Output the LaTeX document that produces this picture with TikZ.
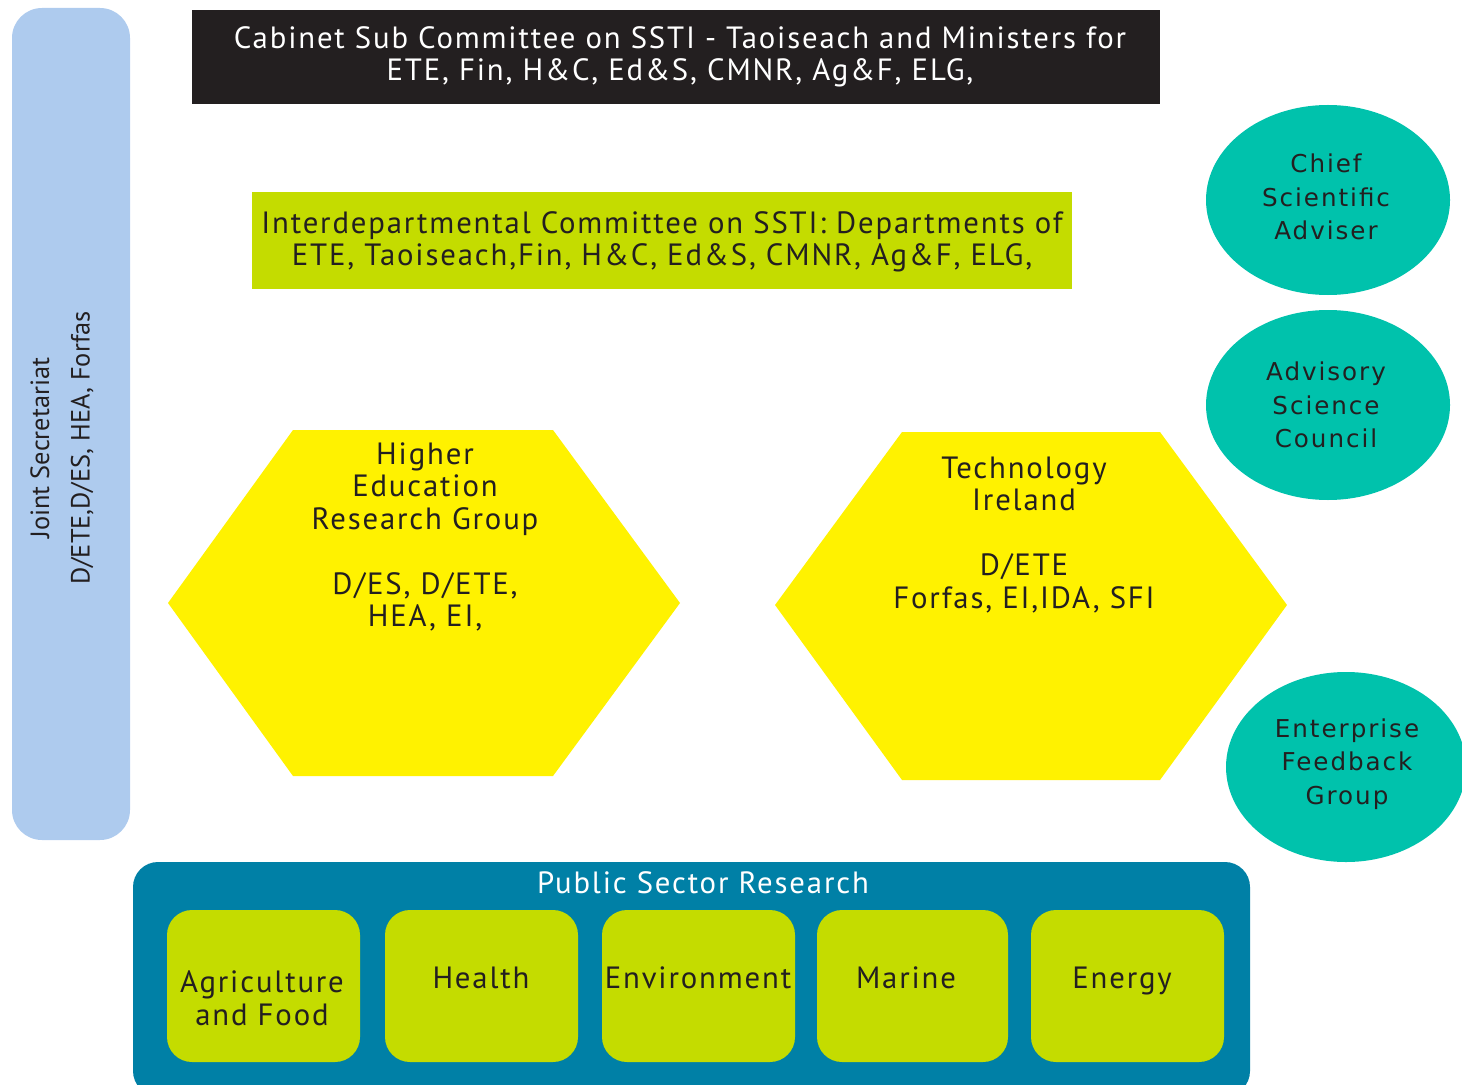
\documentclass[tikz,border=0pt]{standalone}
\usepackage{fontspec}
\setmainfont[LetterSpace=6]{PT Sans}
\newfontfamily\plainfont{PT Sans}
\newfontfamily\roundfont[LetterSpace=8]{DejaVu Sans}
\definecolor{secblue}{HTML}{AECBEE}
\definecolor{cabblack}{HTML}{231F20}
\definecolor{limegreen}{HTML}{C4DC00}
\definecolor{hexyellow}{HTML}{FFF200}
\definecolor{advteal}{HTML}{00C2AC}
\definecolor{psrblue}{HTML}{0080A6}
\begin{document}
\begin{tikzpicture}[x=0.02cm,y=0.02cm]
\tikzstyle{every node}+=[inner sep=0pt, align=center, text=cabblack, font=\fontsize{17.5}{18.5}\selectfont]
\tikzstyle{advtext}=[font=\roundfont\fontsize{14}{19}\selectfont]
\useasboundingbox (0,0) rectangle (1462,-1084);
\fill [secblue, rounded corners=0.6cm] (12,-8) rectangle (130,-840);
\node [rotate=90, font=\plainfont\fontsize{15}{23}\selectfont] (secr) at (62,-448) {Joint Secretariat\\D/ETE,D/ES, HEA, Forfas};
\fill [cabblack] (192,-10) rectangle (1160,-104);
\node [text=white] (cabinet) at (680,-57) {Cabinet Sub Committee on SSTI - Taoiseach and Ministers for\\ETE, Fin, H\&C, Ed\&S, CMNR, Ag\&F, ELG,};
\fill [limegreen] (252,-192) rectangle (1072,-289);
\node (interdep) at (662,-242) {Interdepartmental Committee on SSTI: Departments of\\ETE, Taoiseach,Fin, H\&C, Ed\&S, CMNR, Ag\&F, ELG,};
\fill [hexyellow] (168,-603) -- (293,-430) -- (553,-430) -- (680,-603) -- (553,-776) -- (293,-776) -- cycle;
\node (herg) at (425,-537) {Higher\\Education\\Research Group\\[18.5pt]D/ES, D/ETE,\\HEA, EI,};
\fill [hexyellow] (775,-605) -- (902,-432) -- (1160,-432) -- (1287,-605) -- (1160,-780) -- (902,-780) -- cycle;
\node (techirl) at (1024,-535) {Technology\\Ireland\\[18.5pt]D/ETE\\Forfas, EI,IDA, SFI};
\fill [advteal] (1328,-200) ellipse [x radius=122, y radius=95];
\node [advtext] (csa) at (1326,-197) {Chief\\Scientific\\Adviser};
\fill [advteal] (1328,-405) ellipse [x radius=122, y radius=95];
\node [advtext] (asc) at (1326,-405) {Advisory\\Science\\Council};
\fill [advteal] (1346,-767) ellipse [x radius=120, y radius=95];
\node [advtext] (efg) at (1347,-764) {Enterprise\\Feedback\\Group};
\fill [psrblue, rounded corners=0.5cm] (133,-862) rectangle (1250,-1096);
\node [text=white] (psr) at (703,-883) {Public Sector Research};
\fill [limegreen, rounded corners=0.5cm] (167,-910) rectangle (360,-1062);
\fill [limegreen, rounded corners=0.5cm] (385,-910) rectangle (578,-1062);
\fill [limegreen, rounded corners=0.5cm] (602,-910) rectangle (795,-1062);
\fill [limegreen, rounded corners=0.5cm] (817,-910) rectangle (1008,-1062);
\fill [limegreen, rounded corners=0.5cm] (1031,-910) rectangle (1224,-1062);
\node (agri) at (262,-998) {Agriculture\\and Food};
\node (health) at (481,-978) {Health};
\node (environ) at (698,-978) {Environment};
\node (marine) at (906,-978) {Marine};
\node (energy) at (1122,-981) {Energy};
\end{tikzpicture}
\end{document}
